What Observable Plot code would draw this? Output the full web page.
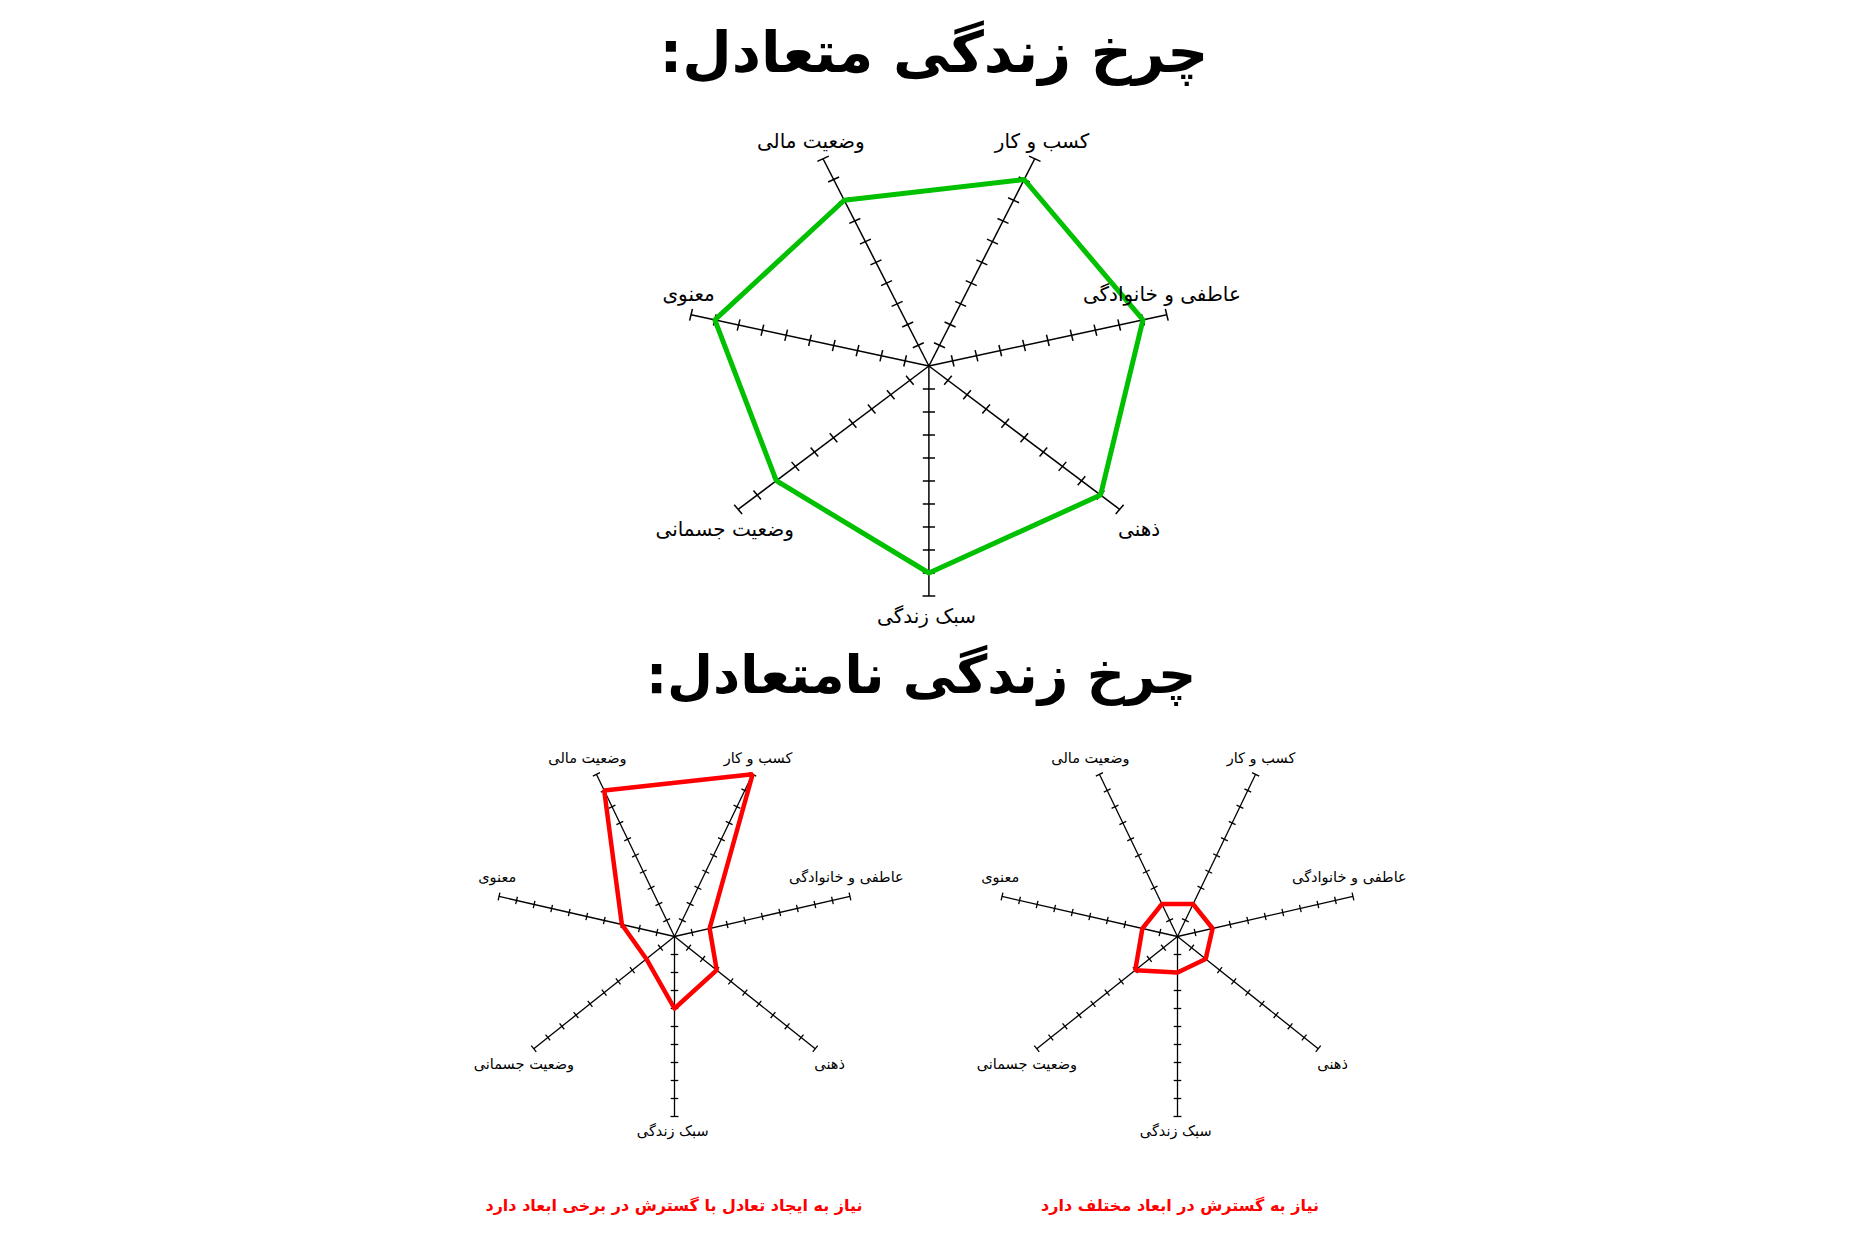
<!DOCTYPE html>
<html lang="fa">
<head>
<meta charset="utf-8">
<script src="https://cdn.jsdelivr.net/npm/d3@7"></script>
<script src="https://cdn.jsdelivr.net/npm/@observablehq/plot@0.6"></script>
<style>
  html, body { margin: 0; padding: 0; background: #fff; }
  body { width: 1863px; height: 1250px; position: relative; overflow: hidden; font-family: "DejaVu Sans", sans-serif; }
  .abs { position: absolute; white-space: nowrap; transform: translate(-50%, -50%); line-height: 1; }
  .title { font-weight: bold; color: #000; }
  .caption { font-weight: bold; font-size: 16px; color: #ff0000; }
  .chart { position: absolute; }
  .chart svg { overflow: visible; }
</style>
</head>
<body>
<script>
// ---- data ----
const dimensions = ["سبک زندگی", "وضعیت جسمانی", "معنوی", "وضعیت مالی", "کسب و کار", "عاطفی و خانوادگی", "ذهنی"];
const balancedValues = [9, 8, 9, 8, 9, 9, 9];
const skewedValues = [4, 2, 3, 9, 10, 2, 3];
const narrowValues = [2, 3, 2, 2, 2, 2, 2];
const tickValues = [1, 2, 3, 4, 5, 6, 7, 8, 9, 10];
const maxValue = 10;
const titleBalanced = "چرخ زندگی متعادل:";
const titleUnbalanced = "چرخ زندگی نامتعادل:";
const captionSkewed = "نیاز به ایجاد تعادل با گسترش در برخی ابعاد دارد";
const captionNarrow = "نیاز به گسترش در ابعاد مختلف دارد";

// ---- helpers ----
function addText(text, cls, cx, cy, size) {
  const d = document.createElement("div");
  d.className = "abs " + cls;
  d.dir = "rtl";
  d.textContent = text;
  d.style.left = cx + "px";
  d.style.top = cy + "px";
  if (size) d.style.fontSize = size + "px";
  document.body.appendChild(d);
}

function radar({values, color, strokeWidth, unitX, unitY, fontSize, halfW, top, bottom, cx, cy, tickHalf, capHalf, axisWidth, upOff, downOff}) {
  const n = dimensions.length;
  const axes = dimensions.map((name, i) => {
    const a = Math.PI + i * 2 * Math.PI / n;
    return {name, a, s: Math.sin(a), c: Math.cos(a), v: values[i]};
  });
  const ticks = axes.flatMap(ax => tickValues.map(t => ({...ax, t, h: t === maxValue ? capHalf : tickHalf})));
  const poly = [...axes, axes[0]];
  const labelDx = d => {
    if (d.c > 0) return Math.abs(d.s) > 0.9 ? (d.s < 0 ? -0.1 : -0.2) : (d.s < 0 ? -0.5 : 0.3);
    if (Math.abs(d.s) < 0.01) return -0.1;
    return d.s < 0 ? -0.55 : 0.8;
  };
  const labelX = d => maxValue * d.s + labelDx(d);
  const labelY = d => maxValue * d.c + (d.c > 0 ? upOff + (Math.abs(d.s) > 0.9 ? 0.15 : 0) : -downOff);
  const width = 2 * halfW * unitX;
  const height = (top + bottom) * unitY;
  const svg = Plot.plot({
    width, height,
    margin: 0,
    x: {domain: [-halfW, halfW], range: [0, width]},
    y: {domain: [-bottom, top], range: [height, 0]},
    axis: null,
    style: {background: "transparent", overflow: "visible"},
    marks: [
      Plot.link(axes, {x1: () => 0, y1: () => 0, x2: d => maxValue * d.s, y2: d => maxValue * d.c, stroke: "#000", strokeWidth: axisWidth}),
      Plot.link(ticks, {
        x1: d => d.t * d.s - d.h * d.c, y1: d => d.t * d.c + d.h * d.s,
        x2: d => d.t * d.s + d.h * d.c, y2: d => d.t * d.c - d.h * d.s,
        stroke: "#000", strokeWidth: axisWidth
      }),
      Plot.line(poly, {x: d => d.v * d.s, y: d => d.v * d.c, stroke: color, strokeWidth, strokeLinejoin: "miter", curve: "linear"}),
      Plot.text(axes, {x: labelX, y: labelY, text: "name", fontSize, fill: "#000", fontFamily: "DejaVu Sans", textAnchor: "middle", lineAnchor: "middle"})
    ]
  });
  const wrap = document.createElement("div");
  wrap.className = "chart";
  wrap.style.left = (cx - halfW * unitX) + "px";
  wrap.style.top = (cy - top * unitY) + "px";
  wrap.appendChild(svg);
  document.body.appendChild(wrap);
}

// ---- layout ----
addText(titleBalanced, "title", 934, 52, 57);
radar({values: balancedValues, color: "#00c000", strokeWidth: 5, unitX: 24.4, unitY: 23, fontSize: 20, halfW: 16, top: 11.5, bottom: 12, cx: 928, cy: 365, tickHalf: 0.25, capHalf: 0.26, axisWidth: 1.5, upOff: 0.75, downOff: 0.9});

addText(titleUnbalanced, "title", 921, 674, 53);
radar({values: skewedValues, color: "#ff0000", strokeWidth: 4.5, unitX: 18, unitY: 18, fontSize: 14.5, halfW: 13, top: 12, bottom: 12.5, cx: 674, cy: 936, tickHalf: 0.21, capHalf: 0.22, axisWidth: 1.3, upOff: 0.9, downOff: 0.85});
radar({values: narrowValues, color: "#ff0000", strokeWidth: 4.5, unitX: 18, unitY: 18, fontSize: 14.5, halfW: 13, top: 12, bottom: 12.5, cx: 1177, cy: 936, tickHalf: 0.21, capHalf: 0.22, axisWidth: 1.3, upOff: 0.9, downOff: 0.85});

addText(captionSkewed, "caption", 674, 1206);
addText(captionNarrow, "caption", 1180, 1206);
</script>
</body>
</html>
